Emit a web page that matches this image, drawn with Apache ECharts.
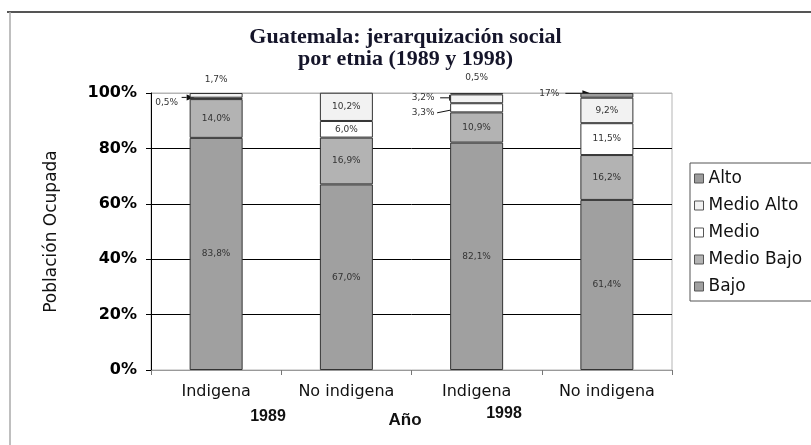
<!DOCTYPE html>
<html>
<head>
<meta charset="utf-8">
<script src="https://cdn.jsdelivr.net/npm/echarts@6/dist/echarts.min.js"></script>
<style>html,body{margin:0;padding:0;background:#fff}#c{width:811px;height:445px}</style>
</head>
<body>
<div id="c"></div>
<script>
// ---- data ----
const categories = ['Indigena 1989', 'No indigena 1989', 'Indigena 1998', 'No indigena 1998'];
const seriesNames = ['Bajo', 'Medio Bajo', 'Medio', 'Medio Alto', 'Alto'];
const bajo = [83.8, 67.0, 82.1, 61.4];
const medioBajo = [14.0, 16.9, 10.9, 16.2];
const medio = [0.5, 6.0, 3.3, 11.5];
const medioAlto = [1.7, 10.2, 3.2, 9.2];
const alto = [0, 0, 0.5, 1.7];
const yTicks = [0, 20, 40, 60, 80, 100];
const yearLabels = ['1989', '1998'];
const xAxisTitle = 'Año';
const yAxisTitle = 'Población Ocupada';
const titleLines = ['Guatemala: jerarquización social', 'por etnia (1989 y 1998)'];
// small segments labelled outside the bars (label text as in the original)
const callouts = [
  {cat: 0, series: 3, text: '1,7%', anchor: 'top', label: [0, -13], arrow: null},
  {cat: 0, series: 2, text: '0,5%', anchor: 'left', label: [-23, 4], arrow: [-8, -1, 5, -1]},
  {cat: 2, series: 4, text: '0,5%', anchor: 'top', label: [0, -15], arrow: null},
  {cat: 2, series: 3, text: '3,2%', anchor: 'left', label: [-27, -1], arrow: [-10, -1, 7, -1]},
  {cat: 2, series: 2, text: '3,3%', anchor: 'left', label: [-27, 5], arrow: [-13, 5, 12, 0]},
  {cat: 3, series: 4, text: '17%', anchor: 'left', label: [-31, -2], arrow: [-15, -2, 10, -2]}
];

const values = [bajo, medioBajo, medio, medioAlto, alto];
const colors = ['#a0a0a0', '#b3b3b3', '#ffffff', '#f2f2f2', '#9c9c9c'];
const BAR_W = 53;
const fmt = v => v.toFixed(1).replace('.', ',') + '%';

const chart = echarts.init(document.getElementById('c'));

const series = seriesNames.map((name, i) => ({
  name: name,
  type: 'bar',
  stack: 'total',
  barWidth: BAR_W,
  data: values[i].map(v => (v === 0 ? null : v)),
  itemStyle: {color: colors[i], borderColor: '#333', borderWidth: 1},
  emphasis: {disabled: true},
  label: {
    show: true,
    position: 'inside',
    fontFamily: 'DejaVu Sans',
    fontSize: 9,
    color: '#333',
    formatter: p => (p.value >= 5 ? fmt(p.value) : '')
  }
}));

chart.setOption({
  animation: false,
  backgroundColor: '#fff',
  title: {
    text: titleLines.join('\n'),
    left: 'center',
    top: 21,
    textStyle: {fontFamily: 'Liberation Serif', fontWeight: 'bold', fontSize: 22, lineHeight: 22, color: '#15152a'}
  },
  grid: {left: 151, right: 139, top: 93, bottom: 75, show: true, borderColor: '#b5b5b5', borderWidth: 1},
  legend: {
    data: seriesNames.slice().reverse(),
    orient: 'vertical',
    left: 690,
    top: 163,
    icon: 'rect',
    itemWidth: 9,
    itemHeight: 9,
    itemGap: 10,
    padding: [7, 20, 6, 4],
    borderColor: '#555',
    borderWidth: 1,
    itemStyle: {borderColor: '#555', borderWidth: 1},
    textStyle: {fontFamily: 'DejaVu Sans', fontSize: 17, color: '#111'}
  },
  xAxis: {
    type: 'category',
    data: categories,
    axisLine: {lineStyle: {color: '#999'}},
    axisTick: {show: true, length: 5, lineStyle: {color: '#777'}},
    axisLabel: {
      interval: 0,
      margin: 14,
      fontFamily: 'DejaVu Sans',
      fontSize: 16,
      color: '#111',
      formatter: v => v.replace(/ \d{4}$/, '')
    }
  },
  yAxis: {
    type: 'value',
    min: yTicks[0],
    max: yTicks[yTicks.length - 1],
    interval: yTicks[1] - yTicks[0],
    name: yAxisTitle,
    nameLocation: 'middle',
    nameRotate: 90,
    nameGap: 91,
    nameTextStyle: {fontFamily: 'DejaVu Sans', fontSize: 17, color: '#111'},
    axisLine: {show: true, lineStyle: {color: '#000'}},
    axisTick: {show: true, length: 5, lineStyle: {color: '#000'}},
    axisLabel: {
      margin: 14,
      fontFamily: 'DejaVu Sans',
      fontWeight: 'bold',
      fontSize: 16,
      color: '#000',
      formatter: '{value}%'
    },
    splitLine: {show: true, lineStyle: {color: ['#999', '#000', '#000', '#000', '#000', '#b5b5b5'], width: 1}}
  },
  series: series
});

// ---- callouts & extra text ----
function buildGraphics() {
  const g = [];
  // outer frame
  g.push({type: 'line', shape: {x1: 7, y1: 12, x2: 811, y2: 12}, style: {stroke: '#555', lineWidth: 2}, silent: true});
  g.push({type: 'line', shape: {x1: 10, y1: 12, x2: 10, y2: 445}, style: {stroke: '#aaa', lineWidth: 1.5}, silent: true});

  callouts.forEach(c => {
    let below = 0;
    for (let i = 0; i < c.series; i++) below += values[i][c.cat];
    const segVal = values[c.series][c.cat];
    let total = 0;
    for (let i = 0; i < values.length; i++) total += values[i][c.cat];
    let ax, ay;
    const center = chart.convertToPixel({gridIndex: 0}, [c.cat, 0])[0];
    if (c.anchor === 'top') {
      ax = center;
      ay = chart.convertToPixel({gridIndex: 0}, [c.cat, total])[1];
    } else {
      ax = center - BAR_W / 2;
      ay = chart.convertToPixel({gridIndex: 0}, [c.cat, below + segVal / 2])[1];
    }
    g.push({
      type: 'text', silent: true,
      style: {x: ax + c.label[0], y: ay + c.label[1], text: c.text, textAlign: 'center', textVerticalAlign: 'middle',
              font: '9px "DejaVu Sans"', fill: '#333'}
    });
    if (c.arrow) {
      const [sx, sy, ex, ey] = c.arrow;
      const x1 = ax + sx, y1 = ay + sy, x2 = ax + ex, y2 = ay + ey;
      const ang = Math.atan2(y2 - y1, x2 - x1);
      const L = 8, W = 3;
      const bx = x2 - L * Math.cos(ang), by = y2 - L * Math.sin(ang);
      g.push({type: 'line', silent: true, shape: {x1: x1, y1: y1, x2: bx, y2: by}, style: {stroke: '#111', lineWidth: 1}});
      g.push({type: 'polygon', silent: true,
        shape: {points: [[x2, y2], [bx - W * Math.sin(ang), by + W * Math.cos(ang)], [bx + W * Math.sin(ang), by - W * Math.cos(ang)]]},
        style: {fill: '#111'}});
    }
  });

  // year group labels and axis title
  const yearPos = [[268, 417], [504, 414]];
  yearLabels.forEach((t, i) => {
    g.push({type: 'text', silent: true,
      style: {x: yearPos[i][0], y: yearPos[i][1], text: t, textAlign: 'center', textVerticalAlign: 'middle',
              font: 'bold 16px "Liberation Sans"', fill: '#111'}});
  });
  g.push({type: 'text', silent: true,
    style: {x: 405, y: 420, text: xAxisTitle, textAlign: 'center', textVerticalAlign: 'middle',
            font: 'bold 17px "Liberation Sans"', fill: '#111'}});
  return g;
}

chart.setOption({graphic: buildGraphics()});
</script>
</body>
</html>
